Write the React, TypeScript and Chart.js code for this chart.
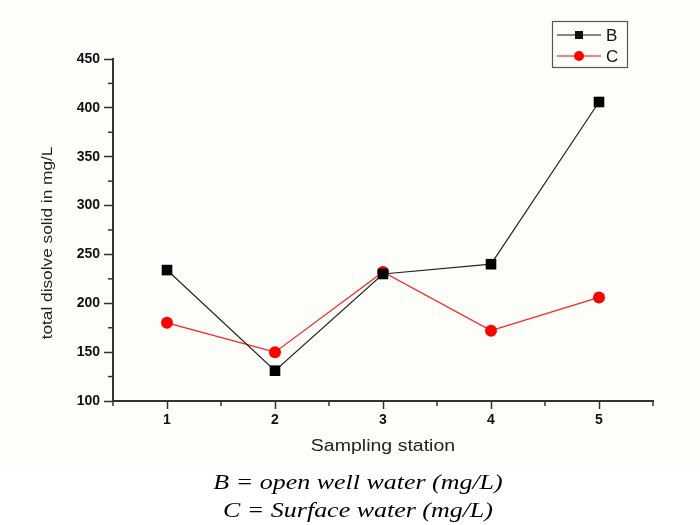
import React, { useEffect, useRef } from "react";
import { Chart, registerables } from "chart.js";

Chart.register(...registerables);

const stations = [1, 2, 3, 4, 5];
const seriesB = [234, 131, 230, 240, 406];
const seriesC = [180, 150, 232, 172, 206];
const labelB = "B";
const labelC = "C";
const xTitle = "Sampling station";
const yTitle = "total disolve solid in mg/L";
const caption1 = "B = open well water (mg/L)";
const caption2 = "C = Surface water (mg/L)";

const AXIS = "#333";
const SANS = "'Liberation Sans', Arial, sans-serif";

const customDraw = {
  id: "customDraw",
  beforeDraw(chart: any) {
    const { ctx } = chart;
    ctx.save();
    ctx.fillStyle = "#fdfdf9";
    ctx.fillRect(0, 0, chart.width, 466);
    ctx.fillStyle = "#ffffff";
    ctx.fillRect(0, 466, chart.width, chart.height - 466);
    ctx.restore();
  },
  afterDraw(chart: any) {
    const { ctx, chartArea } = chart;
    const xs = chart.scales.x;
    const ys = chart.scales.y;
    ctx.save();
    // minor ticks
    ctx.strokeStyle = AXIS;
    ctx.lineWidth = 1.5;
    ys.ticks.forEach((t: any) => {
      if (t.value % 50 !== 0) {
        const y = ys.getPixelForValue(t.value);
        ctx.beginPath();
        ctx.moveTo(chartArea.left - 5, y);
        ctx.lineTo(chartArea.left, y);
        ctx.stroke();
      }
    });
    xs.ticks.forEach((t: any) => {
      if (Math.abs(t.value - Math.round(t.value)) > 0.01) {
        const x = xs.getPixelForValue(t.value);
        ctx.beginPath();
        ctx.moveTo(x, chartArea.bottom);
        ctx.lineTo(x, chartArea.bottom + 5);
        ctx.stroke();
      }
    });
    // axis titles
    ctx.fillStyle = "#222";
    ctx.textAlign = "center";
    ctx.textBaseline = "middle";
    ctx.save();
    ctx.translate(383, 447);
    ctx.scale(1.22, 1);
    ctx.font = `16px ${SANS}`;
    ctx.fillText(xTitle, 0, 0);
    ctx.restore();
    ctx.save();
    ctx.translate(48, 243);
    ctx.rotate(-Math.PI / 2);
    ctx.scale(1.15, 1);
    ctx.font = `15px ${SANS}`;
    ctx.fillText(yTitle, 0, 0);
    ctx.restore();
    // legend
    ctx.strokeStyle = "#555";
    ctx.lineWidth = 1.2;
    ctx.strokeRect(552.5, 21.5, 75, 46);
    const rows = [
      { label: chart.data.datasets[0].label, color: "#111", y: 35, shape: "rect" },
      { label: chart.data.datasets[1].label, color: "#ff0000", y: 56, shape: "circle" },
    ];
    rows.forEach((r) => {
      ctx.strokeStyle = r.color;
      ctx.lineWidth = 1;
      ctx.beginPath();
      ctx.moveTo(557, r.y);
      ctx.lineTo(601, r.y);
      ctx.stroke();
      ctx.fillStyle = r.color;
      if (r.shape === "rect") {
        ctx.fillRect(575, r.y - 4, 8, 8);
      } else {
        ctx.beginPath();
        ctx.arc(579, r.y, 5, 0, Math.PI * 2);
        ctx.fill();
      }
      ctx.fillStyle = "#111";
      ctx.font = `17px ${SANS}`;
      ctx.textAlign = "left";
      ctx.fillText(r.label, 606, r.y + 1);
    });
    ctx.restore();
  },
};

export default function App() {
  const ref = useRef<HTMLCanvasElement>(null);
  useEffect(() => {
    document.body.style.margin = "0";
    const chart = new Chart(ref.current as HTMLCanvasElement, {
      type: "line",
      data: {
        datasets: [
          {
            label: labelB,
            data: stations.map((s, i) => ({ x: s, y: seriesB[i] })),
            borderColor: "#222",
            borderWidth: 1.2,
            backgroundColor: "#000",
            pointStyle: "rect",
            pointRadius: 7.5,
            pointBorderWidth: 0,
            tension: 0,
          },
          {
            label: labelC,
            data: stations.map((s, i) => ({ x: s, y: seriesC[i] })),
            borderColor: "#ff2020",
            borderWidth: 1.2,
            backgroundColor: "#ff0000",
            pointStyle: "circle",
            pointRadius: 6,
            pointBorderWidth: 0,
            tension: 0,
          },
        ],
      },
      options: {
        animation: false,
        responsive: false,
        maintainAspectRatio: false,
        layout: { padding: { top: 59, right: 47, bottom: 0, left: 0 } },
        plugins: { legend: { display: false }, tooltip: { enabled: false } },
        scales: {
          x: {
            type: "linear",
            min: 0.5,
            max: 5.5,
            afterFit: (s: any) => {
              s.height = 124;
            },
            border: { color: AXIS, width: 2 },
            grid: {
              drawOnChartArea: false,
              tickLength: 8,
              tickWidth: 1.5,
              tickColor: (c: any) =>
                c.tick && Math.abs(c.tick.value - Math.round(c.tick.value)) < 0.01 ? AXIS : "rgba(0,0,0,0)",
            },
            ticks: {
              stepSize: 0.5,
              autoSkip: false,
              maxRotation: 0,
              padding: 3,
              color: "#111",
              font: { family: SANS, size: 14, weight: "bold" },
              callback: (v: any) => (Math.abs(v - Math.round(v)) < 0.01 ? String(Math.round(v)) : ""),
            },
          },
          y: {
            min: 100,
            max: 450,
            afterFit: (s: any) => {
              s.width = 113;
            },
            border: { color: AXIS, width: 2 },
            grid: {
              drawOnChartArea: false,
              tickLength: 9,
              tickWidth: 1.5,
              tickColor: (c: any) => (c.tick && c.tick.value % 50 === 0 ? AXIS : "rgba(0,0,0,0)"),
            },
            ticks: {
              stepSize: 25,
              autoSkip: false,
              padding: 4,
              color: "#111",
              font: { family: SANS, size: 14, weight: "bold" },
              callback: (v: any) => (v % 50 === 0 ? String(v) : ""),
            },
          },
        },
      },
      plugins: [customDraw],
    } as any);
    return () => chart.destroy();
  }, []);

  const capStyle: React.CSSProperties = {
    position: "absolute",
    left: 8,
    width: 700,
    textAlign: "center",
    fontFamily: "'Liberation Serif', 'Times New Roman', serif",
    fontStyle: "italic",
    fontSize: 22,
    color: "#000",
    lineHeight: "26px",
    transform: "scaleX(1.18)",
    transformOrigin: "350px 0",
  };

  return (
    <div style={{ position: "relative", width: 700, height: 525, overflow: "hidden" }}>
      <canvas ref={ref} width={700} height={525} style={{ display: "block" }} />
      <div style={{ ...capStyle, top: 469 }}>{caption1}</div>
      <div style={{ ...capStyle, top: 497 }}>{caption2}</div>
    </div>
  );
}
